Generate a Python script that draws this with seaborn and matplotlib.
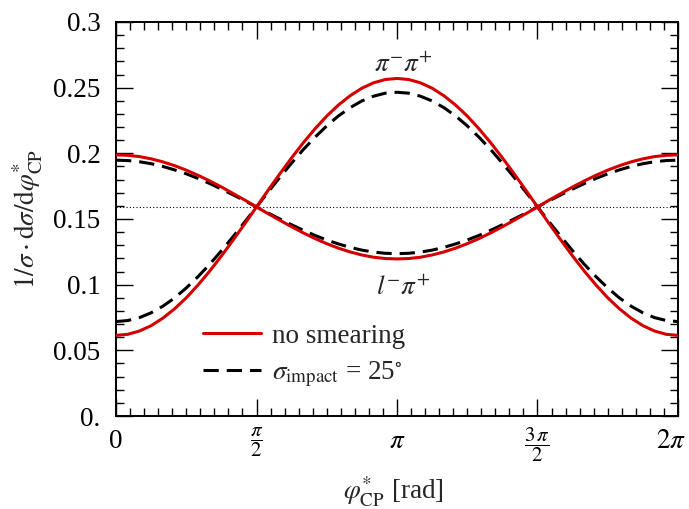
import numpy as np
import pandas as pd
import matplotlib
matplotlib.use("Agg")
import matplotlib.pyplot as plt
import matplotlib.transforms as mtransforms
import seaborn as sns
from matplotlib.ticker import MultipleLocator, FixedLocator, FixedFormatter

# ==========================
# Data
# ==========================

phi_deg = [0, 7.5, 15, 22.5, 30, 37.5, 45, 52.5, 60, 67.5, 75, 82.5, 90,
           97.5, 105, 112.5, 120, 127.5, 135, 142.5, 150, 157.5, 165, 172.5, 180,
           187.5, 195, 202.5, 210, 217.5, 225, 232.5, 240, 247.5, 255, 262.5, 270,
           277.5, 285, 292.5, 300, 307.5, 315, 322.5, 330, 337.5, 345, 352.5, 360]

pipi_nosmear = [0.0614, 0.0622, 0.0647, 0.0688, 0.0745, 0.0816, 0.0900, 0.0997, 0.1103,
                0.1218, 0.1339, 0.1464, 0.1592, 0.1720, 0.1845, 0.1966, 0.2081, 0.2187,
                0.2284, 0.2368, 0.2439, 0.2496, 0.2537, 0.2562, 0.2570,
                0.2562, 0.2537, 0.2496, 0.2439, 0.2368, 0.2284, 0.2187, 0.2081, 0.1966,
                0.1845, 0.1720, 0.1592, 0.1464, 0.1339, 0.1218, 0.1103, 0.0997, 0.0900,
                0.0816, 0.0745, 0.0688, 0.0647, 0.0622, 0.0614]
pipi_smear = [0.0719, 0.0727, 0.0749, 0.0786, 0.0836, 0.0899, 0.0975, 0.1061, 0.1155,
              0.1258, 0.1366, 0.1478, 0.1592, 0.1706, 0.1818, 0.1926, 0.2029, 0.2123,
              0.2209, 0.2285, 0.2348, 0.2399, 0.2435, 0.2458, 0.2465,
              0.2458, 0.2435, 0.2399, 0.2348, 0.2285, 0.2209, 0.2123, 0.2029, 0.1926,
              0.1818, 0.1706, 0.1592, 0.1478, 0.1366, 0.1258, 0.1155, 0.1061, 0.0975,
              0.0899, 0.0836, 0.0786, 0.0749, 0.0727, 0.0719]
lpi_nosmear = [0.1988, 0.1985, 0.1975, 0.1958, 0.1935, 0.1906, 0.1872, 0.1833, 0.1790,
               0.1744, 0.1694, 0.1644, 0.1592, 0.1540, 0.1490, 0.1441, 0.1394, 0.1351,
               0.1312, 0.1278, 0.1249, 0.1226, 0.1209, 0.1199, 0.1196,
               0.1199, 0.1209, 0.1226, 0.1249, 0.1278, 0.1312, 0.1351, 0.1394, 0.1441,
               0.1490, 0.1540, 0.1592, 0.1644, 0.1694, 0.1744, 0.1790, 0.1833, 0.1872,
               0.1906, 0.1935, 0.1958, 0.1975, 0.1985, 0.1988]
lpi_smear = [0.1948, 0.1945, 0.1936, 0.1921, 0.1900, 0.1874, 0.1844, 0.1809, 0.1770,
             0.1728, 0.1684, 0.1639, 0.1592, 0.1545, 0.1500, 0.1456, 0.1414, 0.1375,
             0.1340, 0.1310, 0.1284, 0.1263, 0.1248, 0.1239, 0.1236,
             0.1239, 0.1248, 0.1263, 0.1284, 0.1310, 0.1340, 0.1375, 0.1414, 0.1456,
             0.1500, 0.1545, 0.1592, 0.1639, 0.1684, 0.1728, 0.1770, 0.1809, 0.1844,
             0.1874, 0.1900, 0.1921, 0.1936, 0.1945, 0.1948]

flat_level = 0.1592

x_tick_labels = ["0", r"$\dfrac{\pi}{2}$", r"$\pi$", r"$\dfrac{3\,\pi}{2}$", r"$2\pi$"]
y_tick_values = [0.0, 0.05, 0.1, 0.15, 0.2, 0.25, 0.3]
y_tick_labels = ["0.", "0.05", "0.1", "0.15", "0.2", "0.25", "0.3"]

phi = np.deg2rad(phi_deg)

# ==========================
# Style
# ==========================

sns.set_theme(style="ticks")
plt.rcParams["font.family"] = ["Liberation Serif", "DejaVu Serif"]
plt.rcParams["mathtext.fontset"] = "stix"

fs = 19.5

fig = plt.figure(figsize=(6.89, 5.09), dpi=100)
ax = fig.add_axes([0.1684, 0.1827, 0.8156, 0.7741])

red = "#d40000"
dash = (5.0, 2.6)

ax.axhline(flat_level, color="black", lw=0.8, ls=(0, (1, 2)), zorder=1)

sns.lineplot(x=phi, y=pipi_smear, ax=ax, color="black", lw=2.2,
             label=r"$\sigma_{\mathrm{impact}}$ = 25$^{\circ}$", zorder=2)
sns.lineplot(x=phi, y=lpi_smear, ax=ax, color="black", lw=2.2, zorder=2)
sns.lineplot(x=phi, y=pipi_nosmear, ax=ax, color=red, lw=2.2,
             label="no smearing", zorder=3)
sns.lineplot(x=phi, y=lpi_nosmear, ax=ax, color=red, lw=2.2, zorder=3)

for ln in ax.lines[1:3]:
    ln.set_dashes(dash)

ax.set_xlim(0, 2 * np.pi)
ax.set_ylim(0, 0.3)

ax.xaxis.set_major_locator(FixedLocator([0, np.pi / 2, np.pi, 3 * np.pi / 2, 2 * np.pi]))
ax.xaxis.set_major_formatter(FixedFormatter(x_tick_labels))
ax.xaxis.set_minor_locator(MultipleLocator(np.pi / 20))
ax.yaxis.set_major_locator(FixedLocator(y_tick_values))
ax.yaxis.set_major_formatter(FixedFormatter(y_tick_labels))
ax.yaxis.set_minor_locator(MultipleLocator(0.01))

ax.tick_params(which="both", direction="in", top=True, right=True,
               width=1.0, color="black", labelsize=fs, labelcolor="black")
ax.tick_params(which="major", length=12)
ax.tick_params(axis="y", which="major", pad=11)
ax.tick_params(axis="x", which="major", pad=9)
ax.tick_params(which="minor", length=5.8)
for s in ax.spines.values():
    s.set_linewidth(1.4)
    s.set_color("black")

# fractions a bit smaller, last label nudged inside the canvas
xlabels = ax.get_xticklabels()
for i in (1, 3):
    xlabels[i].set_fontsize(15)
    xlabels[i].set_transform(xlabels[i].get_transform()
                             + mtransforms.ScaledTranslation(0, 2 / 72, fig.dpi_scale_trans))
xlabels[4].set_transform(xlabels[4].get_transform()
                         + mtransforms.ScaledTranslation(-5 / 72, 0, fig.dpi_scale_trans))

ax.set_xlabel(r"$\varphi^{*}_{\mathrm{CP}}$ [rad]", fontsize=fs)
ax.xaxis.label.set_va("center")
ax.xaxis.set_label_coords(0.493, -0.193)
ax.set_ylabel(r"$1/\sigma\cdot\mathrm{d}\sigma/\mathrm{d}\varphi^{*}_{\mathrm{CP}}$", fontsize=fs,
              labelpad=6)

ax.text(np.pi + 0.07, 0.267, r"$\pi^{-}\pi^{+}$", fontsize=fs, ha="center", va="center")
ax.text(np.pi + 0.07, 0.0975, r"$l^{-}\pi^{+}$", fontsize=fs, ha="center", va="center")

handles, labels = ax.get_legend_handles_labels()
ax.legend(handles[::-1], labels[::-1], loc="center left", bbox_to_anchor=(0.155, 0.151),
          frameon=False, fontsize=fs, handlelength=2.15, handletextpad=0.4,
          labelspacing=0.4, borderpad=0, borderaxespad=0)

fig.savefig("out.png", dpi=100)
